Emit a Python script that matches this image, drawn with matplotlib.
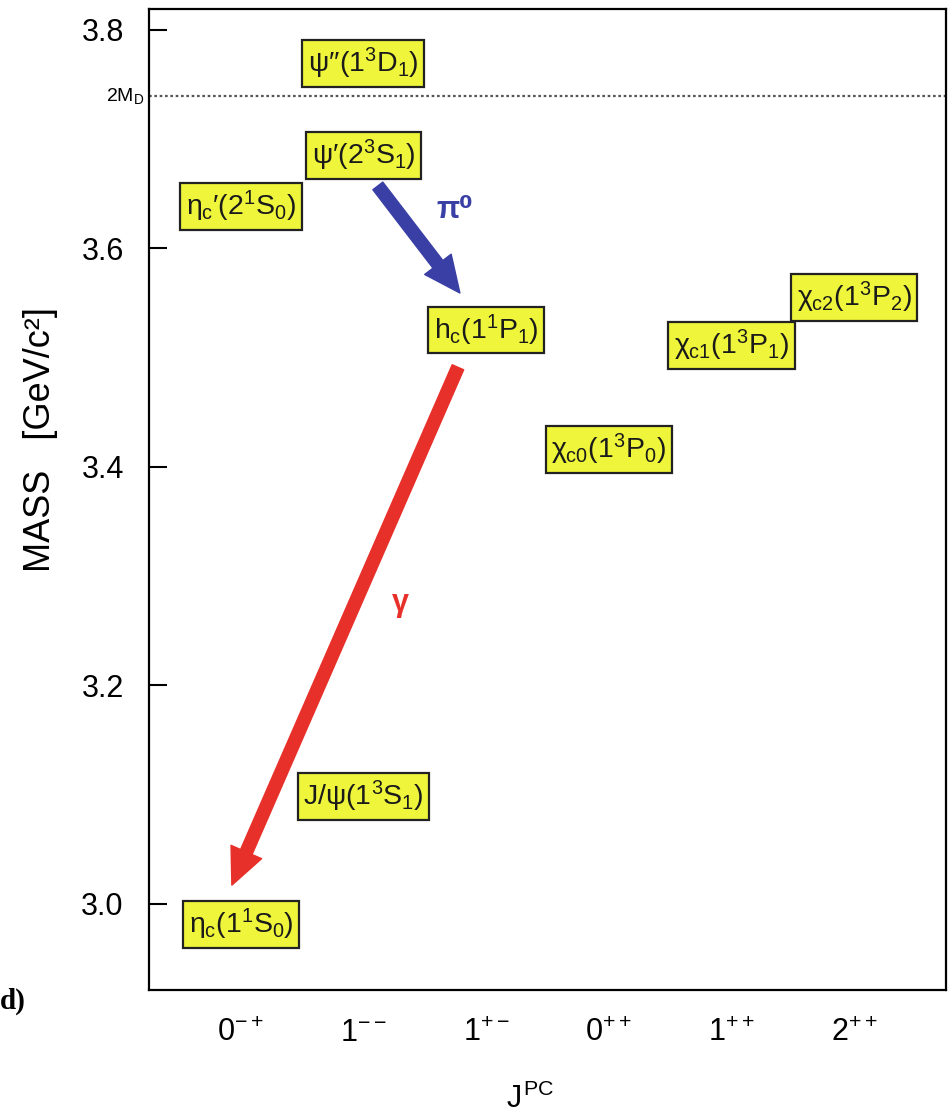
import matplotlib
matplotlib.use('Agg')
import matplotlib.pyplot as plt

plt.rcParams['font.family'] = ['Liberation Sans', 'DejaVu Sans']
plt.rcParams['mathtext.fontset'] = 'custom'
plt.rcParams['mathtext.rm'] = 'Liberation Sans'
plt.rcParams['mathtext.it'] = 'Liberation Sans'
plt.rcParams['mathtext.bf'] = 'Liberation Sans:bold'

# J^PC categories on the x axis
jpc_labels = [r'$0^{-+}$', r'$1^{--}$', r'$1^{+-}$', r'$0^{++}$', r'$1^{++}$', r'$2^{++}$']

# charmonium states: category index, mass in GeV/c^2, label
state_names = [r"$\psi\prime\prime(1^3D_1)$", r"$\psi\prime(2^3S_1)$", r"$\eta_c\prime(2^1S_0)$",
               r'$h_c(1^1P_1)$', r'$\chi_{c0}(1^3P_0)$', r'$\chi_{c1}(1^3P_1)$',
               r'$\chi_{c2}(1^3P_2)$', r'$J/\psi(1^3S_1)$', r'$\eta_c(1^1S_0)$']
state_cat = [1, 1, 0, 2, 3, 4, 5, 1, 0]
state_mass = [3.769, 3.685, 3.638, 3.525, 3.416, 3.511, 3.555, 3.098, 2.981]

two_md = 3.739

# transitions: start (x, mass) -> end (x, mass)
pi0_start = (1.117, 3.657)
pi0_end = (1.786, 3.559)
gamma_start = (1.77, 3.491)
gamma_end = (-0.073, 3.017)

fig = plt.figure(figsize=(9.48, 11.18), dpi=100)
ax = fig.add_axes([0.157, 0.1145, 0.841, 0.8775])

ax.set_xlim(-0.75, 5.75)
ax.set_ylim(2.921, 3.819)

# 2M_D threshold
ax.axhline(two_md, color='#555555', linestyle=(0, (1.2, 1.2)), linewidth=1.6)
ax.text(-0.79, two_md, r'$2M_D$', ha='right', va='center', fontsize=14, clip_on=False)

# state boxes
for x, m, name in zip(state_cat, state_mass, state_names):
    ax.text(x, m, name, ha='center', va='center', fontsize=20.5, color='#1a1a1a',
            bbox=dict(boxstyle='square,pad=0.2', facecolor='#eef53a',
                      edgecolor='#222222', linewidth=1.6))

# transitions
astyle = 'simple,head_length=1.3,head_width=1.2,tail_width=0.45'
ax.annotate('', xy=pi0_end, xytext=pi0_start,
            arrowprops=dict(arrowstyle=astyle, mutation_scale=20, color='#3a3fa6',
                            shrinkA=0, shrinkB=0))
ax.annotate('', xy=gamma_end, xytext=gamma_start,
            arrowprops=dict(arrowstyle=astyle, mutation_scale=20, color='#e8302a',
                            shrinkA=0, shrinkB=0))
ax.text(1.745, 3.635, 'π⁰', color='#3a3fa6', fontsize=22, fontweight='bold',
        ha='center', va='center')
ax.text(1.297, 3.275, 'γ', color='#e8302a', fontsize=22, fontweight='bold',
        ha='center', va='center')

ax.set_xticks(range(len(jpc_labels)))
ax.set_xticklabels(jpc_labels, fontsize=22)
ax.tick_params(axis='x', length=0, pad=20)
ax.set_yticks([3.0, 3.2, 3.4, 3.6, 3.8])
ax.set_yticklabels(['3.0', '3.2', '3.4', '3.6', '3.8'], fontsize=22)
ax.tick_params(axis='y', direction='in', length=13, width=1.5, pad=18)
for s in ax.spines.values():
    s.set_linewidth(1.6)

ax.set_ylabel('MASS   [GeV/c²]', fontsize=26)
ax.yaxis.set_label_coords(-0.114, 0.561)
ax.set_xlabel(r'$J^{PC}$', fontsize=22)
ax.xaxis.set_label_coords((530 - 149) / 797, -0.096)

fig.text(0.0, 1 - 1001 / 1118, 'd)', fontsize=21, fontweight='bold',
         family='Liberation Serif', va='center', ha='left')

fig.savefig('out.png', dpi=100)
